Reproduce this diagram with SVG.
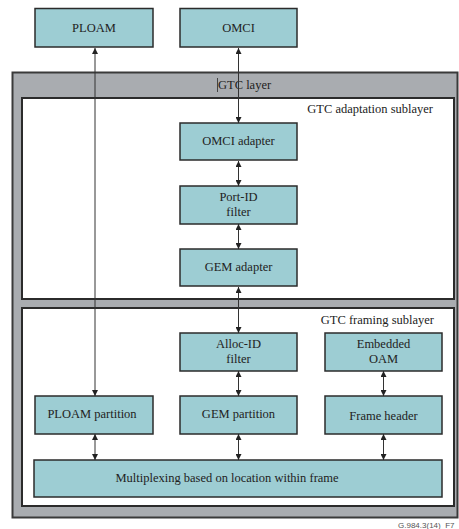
<svg xmlns="http://www.w3.org/2000/svg" width="459" height="529" viewBox="0 0 459 529">
  <style>
    .box { fill: #9dcdd3; stroke: #2b2b2b; stroke-width: 1.5; }
    .lbl { font-family: "Liberation Serif", "Times New Roman", serif; font-size: 12.5px; fill: #222; text-anchor: middle; }
    .cap { font-family: "Liberation Serif", "Times New Roman", serif; font-size: 12.5px; fill: #222; }
    .link { stroke: #333; stroke-width: 1; fill: none; marker-start: url(#ah); marker-end: url(#ah); }
  </style>
  <defs>
    <marker id="ah" viewBox="0 0 6 6" refX="6" refY="3" markerWidth="6" markerHeight="6" markerUnits="userSpaceOnUse" orient="auto-start-reverse">
      <path d="M0,0 L6,3 L0,6 Z" fill="#222"/>
    </marker>
  </defs>

  <rect width="459" height="529" fill="#ffffff"/>

  <!-- GTC layer container -->
  <g id="gtc-layer">
    <rect x="12.5" y="72.5" width="445" height="445" fill="#a9acb0" stroke="#3a3a3a" stroke-width="2"/>
    <line x1="217.5" y1="78" x2="217.5" y2="92" stroke="#444" stroke-width="1"/>
    <text class="cap" x="218" y="89">GTC layer</text>
  </g>

  <g id="adaptation-sublayer">
    <rect x="22" y="98" width="432" height="201" fill="#ffffff" stroke="#2b2b2b" stroke-width="2"/>
    <text class="cap" x="433" y="113" text-anchor="end">GTC adaptation sublayer</text>
  </g>

  <g id="framing-sublayer">
    <rect x="22" y="308" width="432" height="198" fill="#ffffff" stroke="#2b2b2b" stroke-width="2"/>
    <text class="cap" x="434" y="324" text-anchor="end">GTC framing sublayer</text>
  </g>

  <!-- Connectors -->
  <g id="connectors">
    <line class="link" x1="95" y1="48" x2="95" y2="396"/>
    <line class="link" x1="238.5" y1="48" x2="238.5" y2="123"/>
    <line class="link" x1="238.5" y1="161" x2="238.5" y2="186"/>
    <line class="link" x1="238.5" y1="224" x2="238.5" y2="249"/>
    <line class="link" x1="238.5" y1="287" x2="238.5" y2="333"/>
    <line class="link" x1="238.5" y1="371" x2="238.5" y2="396"/>
    <line class="link" x1="383.5" y1="371" x2="383.5" y2="396"/>
    <line class="link" x1="95" y1="434" x2="95" y2="460"/>
    <line class="link" x1="238.5" y1="434" x2="238.5" y2="460"/>
    <line class="link" x1="383.5" y1="434" x2="383.5" y2="460"/>
  </g>

  <!-- Nodes -->
  <g id="ploam">
    <rect class="box" x="35" y="8.5" width="118" height="38.5"/>
    <text class="lbl" x="94" y="32">PLOAM</text>
  </g>
  <g id="omci">
    <rect class="box" x="180" y="8.5" width="117" height="38.5"/>
    <text class="lbl" x="238.5" y="32">OMCI</text>
  </g>
  <g id="omci-adapter">
    <rect class="box" x="180" y="123" width="117" height="37"/>
    <text class="lbl" x="238.5" y="145">OMCI adapter</text>
  </g>
  <g id="port-id-filter">
    <rect class="box" x="180" y="186" width="117" height="38"/>
    <text class="lbl" x="238.5" y="201">Port-ID</text>
    <text class="lbl" x="238.5" y="216">filter</text>
  </g>
  <g id="gem-adapter">
    <rect class="box" x="180" y="249" width="117" height="37"/>
    <text class="lbl" x="238.5" y="271">GEM adapter</text>
  </g>
  <g id="alloc-id-filter">
    <rect class="box" x="180" y="333" width="117" height="38"/>
    <text class="lbl" x="238.5" y="348">Alloc-ID</text>
    <text class="lbl" x="238.5" y="363">filter</text>
  </g>
  <g id="embedded-oam">
    <rect class="box" x="325" y="333" width="117" height="38"/>
    <text class="lbl" x="383.5" y="348">Embedded</text>
    <text class="lbl" x="383.5" y="363">OAM</text>
  </g>
  <g id="ploam-partition">
    <rect class="box" x="35" y="396" width="118" height="38"/>
    <text class="lbl" x="92" y="418">PLOAM partition</text>
  </g>
  <g id="gem-partition">
    <rect class="box" x="180" y="396" width="117" height="38"/>
    <text class="lbl" x="238.5" y="418">GEM partition</text>
  </g>
  <g id="frame-header">
    <rect class="box" x="325" y="396" width="117" height="38"/>
    <text class="lbl" x="383.5" y="420">Frame header</text>
  </g>
  <g id="multiplexing">
    <rect class="box" x="34" y="460" width="408" height="37"/>
    <text class="lbl" x="227" y="482">Multiplexing based on location within frame</text>
  </g>

  <text x="398" y="528" font-family="Liberation Sans, Arial, sans-serif" font-size="8px" fill="#555">G.984.3(14)_F7</text>
</svg>
